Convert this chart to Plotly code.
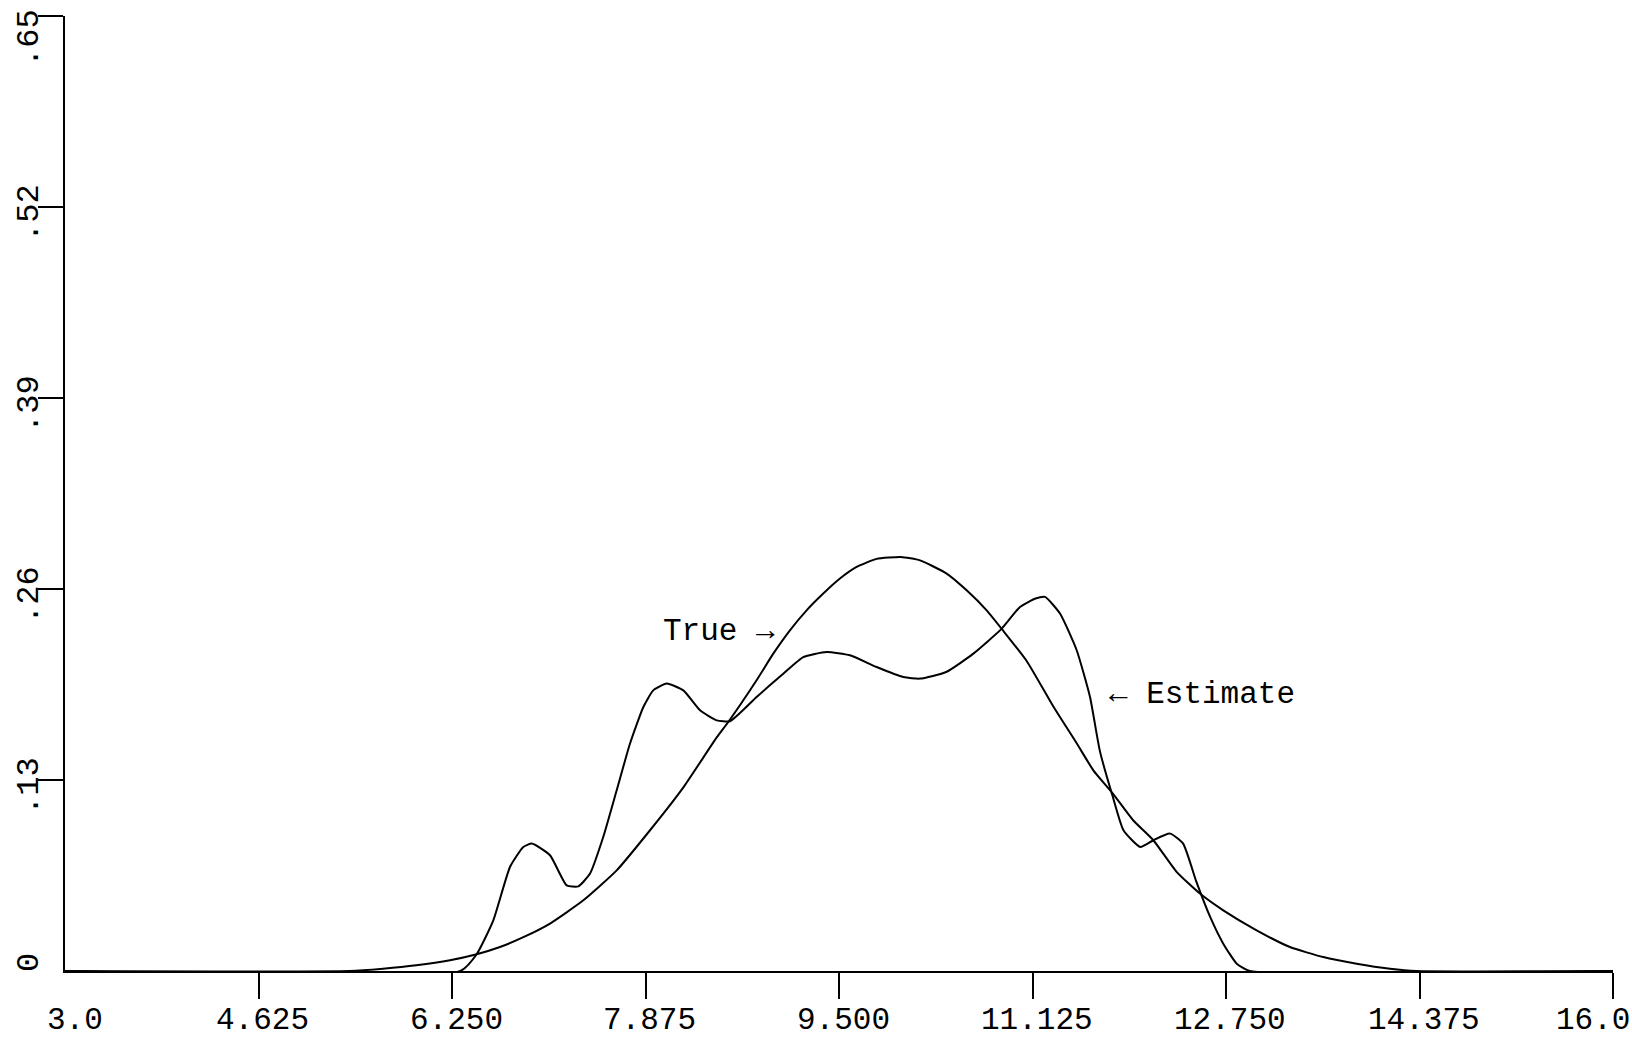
import plotly.graph_objects as go

# ---- data ----
x_ticks = [3.0, 4.625, 6.25, 7.875, 9.5, 11.125, 12.75, 14.375, 16.0]
x_tick_labels = ["3.0", "4.625", "6.250", "7.875", "9.500", "11.125", "12.750", "14.375", "16.0"]
y_ticks = [0, 0.13, 0.26, 0.39, 0.52, 0.65]
y_tick_labels = ["0", ".13", ".26", ".39", ".52", ".65"]

true_x = [3.0, 5.39, 5.67, 5.95, 6.233, 6.457, 6.653, 6.849, 7.073, 7.353, 7.633, 7.913,
          8.193, 8.473, 8.57, 8.808, 8.948, 9.088, 9.228, 9.368, 9.508, 9.648, 9.816, 10.02,
          10.18, 10.404, 10.572, 10.74, 10.87, 11.076, 11.3, 11.496, 11.636, 11.80, 11.97,
          12.14, 12.335, 12.531, 12.727, 13.007, 13.287, 13.567, 13.847, 14.127, 14.35, 16.0]
true_y = [0, 0, 0.0016, 0.0039, 0.0073, 0.0114, 0.0163, 0.023, 0.0323, 0.0481, 0.0685, 0.0958,
          0.125, 0.159, 0.1695, 0.1979, 0.216, 0.2319, 0.2455, 0.2569, 0.2671, 0.275, 0.2805, 0.2818,
          0.2795, 0.2705, 0.2591, 0.2455, 0.2325, 0.2110, 0.180, 0.155, 0.1366, 0.1207, 0.1026,
          0.089, 0.0675, 0.0527, 0.0413, 0.0277, 0.0163, 0.0095, 0.005, 0.0016, 0, 0]

est_x = [3.0, 6.32, 6.457, 6.597, 6.737, 6.849, 6.92, 7.073, 7.213, 7.311, 7.409, 7.52,
         7.633, 7.745, 7.857, 7.94, 8.053, 8.193, 8.333, 8.473, 8.584, 8.808, 9.032, 9.2,
         9.396, 9.592, 9.816, 10.04, 10.18, 10.40, 10.628, 10.86, 11.02, 11.15, 11.23,
         11.356, 11.496, 11.608, 11.69, 11.80, 11.889, 12.03, 12.14, 12.28,
         12.39, 12.50, 12.617, 12.727, 12.84, 12.95, 16.0]
est_y = [0, 0, 0.0114, 0.0345, 0.0708, 0.0844, 0.0867, 0.0788, 0.0583, 0.0576, 0.0663, 0.0912,
         0.123, 0.1548, 0.1797, 0.191, 0.1956, 0.191, 0.1774, 0.1706, 0.1700, 0.1865, 0.2024, 0.2137,
         0.2171, 0.2149, 0.2069, 0.2001, 0.199, 0.2035, 0.216, 0.2325, 0.2478, 0.2535, 0.2546,
         0.2433, 0.2183, 0.1865, 0.150, 0.1184, 0.0958, 0.0844, 0.089, 0.0935,
         0.0867, 0.061, 0.0368, 0.0186, 0.005, 0, 0]

label_true = "True \u2192"
label_est = "\u2190 Estimate"
label_true_pos = (8.49, 0.231)
label_est_pos = (12.55, 0.1885)

FONT = "Liberation Mono, Courier New, monospace"
SIZE = 31

fig = go.Figure()
for xs, ys in ((true_x, true_y), (est_x, est_y)):
    fig.add_trace(go.Scatter(x=xs, y=ys, mode="lines",
                             line=dict(color="black", width=2, shape="spline", smoothing=0.5),
                             showlegend=False, hoverinfo="skip"))

annotations = [
    dict(x=label_true_pos[0], y=label_true_pos[1], xref="x", yref="y", text=label_true,
         showarrow=False, font=dict(family=FONT, size=SIZE, color="black")),
    dict(x=label_est_pos[0], y=label_est_pos[1], xref="x", yref="y", text=label_est,
         showarrow=False, font=dict(family=FONT, size=SIZE, color="black")),
]
# y tick labels (rotated, typewriter style)
for v, t in zip(y_ticks, y_tick_labels):
    if v == y_ticks[-1]:
        shift = -22
    elif v == y_ticks[0]:
        shift = 8
    else:
        shift = -6
    annotations.append(dict(x=0, y=v, xref="paper", yref="y", text=t, textangle=-90,
                            showarrow=False, xanchor="center", yanchor="middle",
                            xshift=-36, yshift=shift,
                            font=dict(family=FONT, size=32, color="black")))
# x tick labels
for i, (v, t) in enumerate(zip(x_ticks, x_tick_labels)):
    if i == 0:
        xs = 10
    elif i == len(x_ticks) - 1:
        xs = -20
    else:
        xs = 4
    annotations.append(dict(x=v, y=0, xref="x", yref="paper", text=t,
                            showarrow=False, xanchor="center", yanchor="middle",
                            xshift=xs, yshift=-49, borderpad=0,
                            font=dict(family=FONT, size=SIZE, color="black")))

fig.update_layout(
    width=1632, height=1039,
    margin=dict(l=65, r=19, t=16, b=68),
    paper_bgcolor="white", plot_bgcolor="white",
    annotations=annotations,
    xaxis=dict(range=[3, 16], tickvals=x_ticks[1:], showticklabels=False,
               showline=True, linecolor="black", linewidth=2, showgrid=False, zeroline=False,
               ticks="outside", ticklen=26, tickwidth=2, tickcolor="black"),
    yaxis=dict(range=[0, 0.65], tickvals=y_ticks[1:], showticklabels=False,
               showline=True, linecolor="black", linewidth=2, showgrid=False, zeroline=False,
               ticks="outside", ticklen=25, tickwidth=2, tickcolor="black"),
)

fig.write_html("out.html")
